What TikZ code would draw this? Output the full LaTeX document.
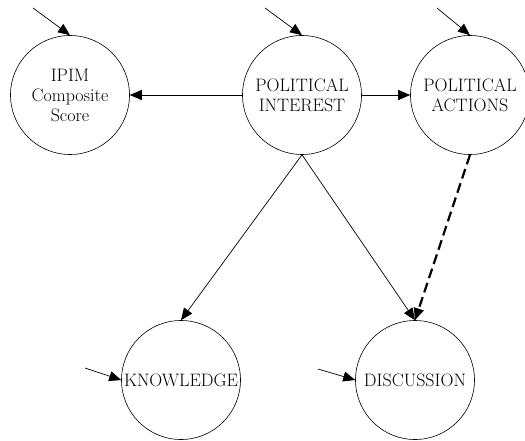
\documentclass[tikz,border=0pt]{standalone}
\usepackage{fontspec}
\usepackage{tikz}
\usetikzlibrary{positioning,arrows.meta}

\begin{document}
\begin{tikzpicture}
    [
      x=1pt, y=-1pt,
      factor/.style={circle, draw, line width=0.6pt, minimum size=119pt, inner sep=0pt,
        align=center, font=\fontsize{18}{20}\selectfont},
      path arrow/.style={-{Triangle[length=12pt,width=10pt]}, line width=0.7pt},
      weak arrow/.style={-{Triangle[length=12pt,width=10pt]}, line width=2.2pt, dash pattern=on 10pt off 5pt}
    ]
    \useasboundingbox (0,0) rectangle (525,441);
    \node (ipim) [factor] at (70,95) {IPIM\\Composite\\Score};
    \node (interest) [factor] at (302,95) {POLITICAL\\INTEREST};
    \node (actions) [factor] at (470,95) {POLITICAL\\ACTIONS};
    \node (knowledge) [factor] at (181,380) {KNOWLEDGE};
    \node (discussion) [factor] at (415,380) {DISCUSSION};
    % disturbance terms
    \coordinate (ipimIn) at (33,8);
    \coordinate (interestIn) at (265,8);
    \coordinate (actionsIn) at (437,8);
    \coordinate (knowledgeIn) at (85,368);
    \coordinate (discussionIn) at (318,369);
    \foreach \i/\j in {ipimIn/ipim.north,interestIn/interest.north,actionsIn/actions.north,
                       knowledgeIn/knowledge.west,discussionIn/discussion.west}
      \draw [path arrow] (\i) -- (\j);
    % structural paths
    \foreach \i/\j in {interest.west/ipim.east,interest.east/actions.west,
                       interest.south/knowledge.north,interest.south/discussion.north}
      \draw [path arrow] (\i) -- (\j);
    \draw [weak arrow] (actions.south) -- (discussion.north);
\end{tikzpicture}
\end{document}
